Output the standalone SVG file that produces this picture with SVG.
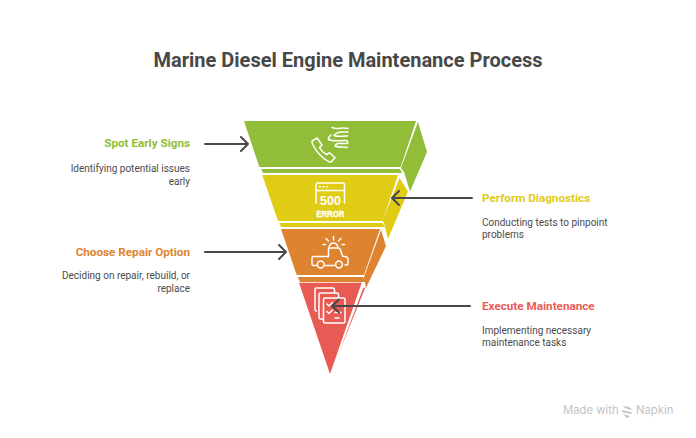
<svg xmlns="http://www.w3.org/2000/svg" width="696" height="438" viewBox="0 0 696 438">
<style>
text{font-family:Roboto,"Liberation Sans",sans-serif}
.t{font-size:11.700px;font-weight:700}
.d{font-size:10px;fill:#4b4b4b}
.ic{fill:none;stroke:#fff;stroke-width:1.500;stroke-linecap:round;stroke-linejoin:round}
.c{fill:none;stroke:#484848;stroke-width:2;stroke-linecap:round;stroke-linejoin:round}
</style>
<rect width="696" height="438" fill="#fff"/>
<text x="348" y="67" text-anchor="middle" font-size="20" font-weight="700" fill="#484848">Marine Diesel Engine Maintenance Process</text>
<g id="node-spot">
<path d="M418 122L427 152L410 191.500L404 172L401 168Z" fill="#92bd39"/>
<path d="M244 121H416L400.700 167H259.300Z" fill="#92bd39"/>
<path d="M261 169H400L402 173H263Z" fill="#92bd39"/>
<g class="ic"><path d="M312.500 144c-.8-1.500-.5-3 .8-3.800l3.700-2.200 5 7-2.500 2.500c1.500 3 4 5.500 7 7.200l3-2 5.500 5-2.700 3c-1 1.300-2.700 1.400-4 .7-6.500-3.500-12.300-10.400-15.800-17.400z"/><path d="M332 127.500c3 1.500 5.500 1 8 .8 3-.3 5.500-.3 8 .2M348 132h-6c-3.500 0-6.500 1.500-8 3.500 4 2 9 0 13.500.5M331 135c-2 1.500-3 3-2.500 4.500 5 2.500 12 1 17.500 1 1.500 0 2 1.500 1.500 3h-9c-2 0-3 1-3.500 2.500 4 2 8.500.5 12.500 1.500"/></g>
<text class="t" x="190" y="147" text-anchor="end" fill="#92bd39">Spot Early Signs</text>
<text class="d" x="190" y="172" text-anchor="end">Identifying potential issues</text>
<text class="d" x="190" y="185" text-anchor="end">early</text>
</g>
<g id="node-diagnostics">
<path d="M399.500 178L408 191.500L388 239L384 223L382.500 221Z" fill="#e0cb15"/>
<path d="M262.300 175H398L382.700 221H278Z" fill="#e0cb15"/>
<path d="M279.500 223H382.500L385 227H281Z" fill="#e0cb15"/>
<g class="ic"><path d="M316 203v-18.500c0-1 .6-1.600 1.600-1.600h25.300c1 0 1.600.6 1.600 1.600V203M316 190.500h28.500"/></g>
<g fill="#fff"><circle cx="320" cy="186.700" r="1"/><circle cx="323.500" cy="186.700" r="1"/><circle cx="327" cy="186.700" r="1"/></g>
<text x="330.500" y="205" text-anchor="middle" font-size="13.500" font-weight="700" fill="#fff" style="font-family:'Liberation Sans',sans-serif" textLength="21" lengthAdjust="spacingAndGlyphs">500</text>
<text x="330.300" y="216.500" text-anchor="middle" font-size="9.500" font-weight="700" fill="#fff" stroke="#fff" stroke-width=".4" style="font-family:'Liberation Sans',sans-serif" textLength="28" lengthAdjust="spacingAndGlyphs">ERROR</text>
<text class="t" x="482" y="202" fill="#e0cb15">Perform Diagnostics</text>
<text class="d" x="482" y="226">Conducting tests to pinpoint</text>
<text class="d" x="482" y="238">problems</text>
</g>
<g id="node-repair">
<path d="M381 230L386 246L366 288L364 277Z" fill="#de8431"/>
<path d="M281 229H380L364 275H296.700Z" fill="#de8431"/>
<path d="M297.700 277H363.500L366 282H300Z" fill="#de8431"/>
<g class="ic"><path d="M316.500 265.500h-3c-.8 0-1.500-.7-1.500-1.500v-6c0-.8.7-1.500 1.500-1.500H328.500v-8.500h10c.8 0 1.400.4 1.700 1.200l2.300 6.800 4 1c1 .3 1.500 1 1.500 2v4.500c0 .8-.7 1.500-1.500 1.500h-1.500M325 265.500h9.500"/><circle cx="320.700" cy="264.500" r="3.400"/><circle cx="339" cy="264.500" r="3.400"/><path d="M329 247.500c.5-2.500 2-4.500 4.500-4.500s4 2 4.500 4.500M333.500 240v-3.500M328.500 241l-2.500-2.500M338.500 241l2.500-2.500M325.500 244.500h-2.500M342 244.500h2.500"/></g>
<text class="t" x="190" y="256" text-anchor="end" fill="#de8431">Choose Repair Option</text>
<text class="d" x="190" y="279" text-anchor="end">Deciding on repair, rebuild, or</text>
<text class="d" x="190" y="292" text-anchor="end">replace</text>
</g>
<g id="node-execute">
<path d="M363 288.500L365.500 287L339 353Z" fill="#e85b55"/>
<path d="M299 282.700H361.700L330 374Z" fill="#e85b55"/>
<g class="ic"><path d="M316.500 311c-1 0-1.500-.5-1.500-1.500v-20c0-.8.6-1.500 1.500-1.500h16c1 0 2 .7 2 1.500v3"/><path d="M323 319h-2.500c-1 0-1.500-.5-1.500-1.500v-23c0-1 .7-1.500 1.500-1.500h16c1 0 2 .7 2 1.500v3.500"/><path d="M325 298h18.500c1 0 1.500 .7 1.500 1.500v22c0 1-.7 1.500-1.500 1.500H325c-1 0-1.500-.5-1.500-1.500v-22c0-1 .7-1.500 1.500-1.500z"/><path d="M327 304l2 2 3.500-3.500M327 311.500l2 2 3.500-3.500M335 312.500h6M335 318h4"/></g>
<text class="t" x="482" y="310" fill="#e85b55">Execute Maintenance</text>
<text class="d" x="482" y="334">Implementing necessary</text>
<text class="d" x="482" y="346">maintenance tasks</text>
</g>
<g id="connectors">
<path class="c" d="M205 144H248M241 137L248 144L241 151"/>
<path class="c" d="M472 198H392M399 191L392 198L399 205"/>
<path class="c" d="M205 252H286M279 245L286 252L279 259"/>
<path class="c" d="M470 306H332M339 299.500L332 306L339 312.500"/>
</g>
<g id="watermark">
<text x="563" y="414" font-size="11.300" fill="#c4c4c4" style="font-family:Inter,Roboto,sans-serif">Made with</text>
<path d="M622 406.500l6 0 4.500 3-3.500 0zM622 410l10.500 2.500-2 1.500-8.500-2zM623 414l7 2-3 2.500z" fill="#c4c4c4"/>
<text x="636" y="414" font-size="11.300" fill="#c4c4c4" style="font-family:Inter,Roboto,sans-serif">Napkin</text>
</g>
</svg>
